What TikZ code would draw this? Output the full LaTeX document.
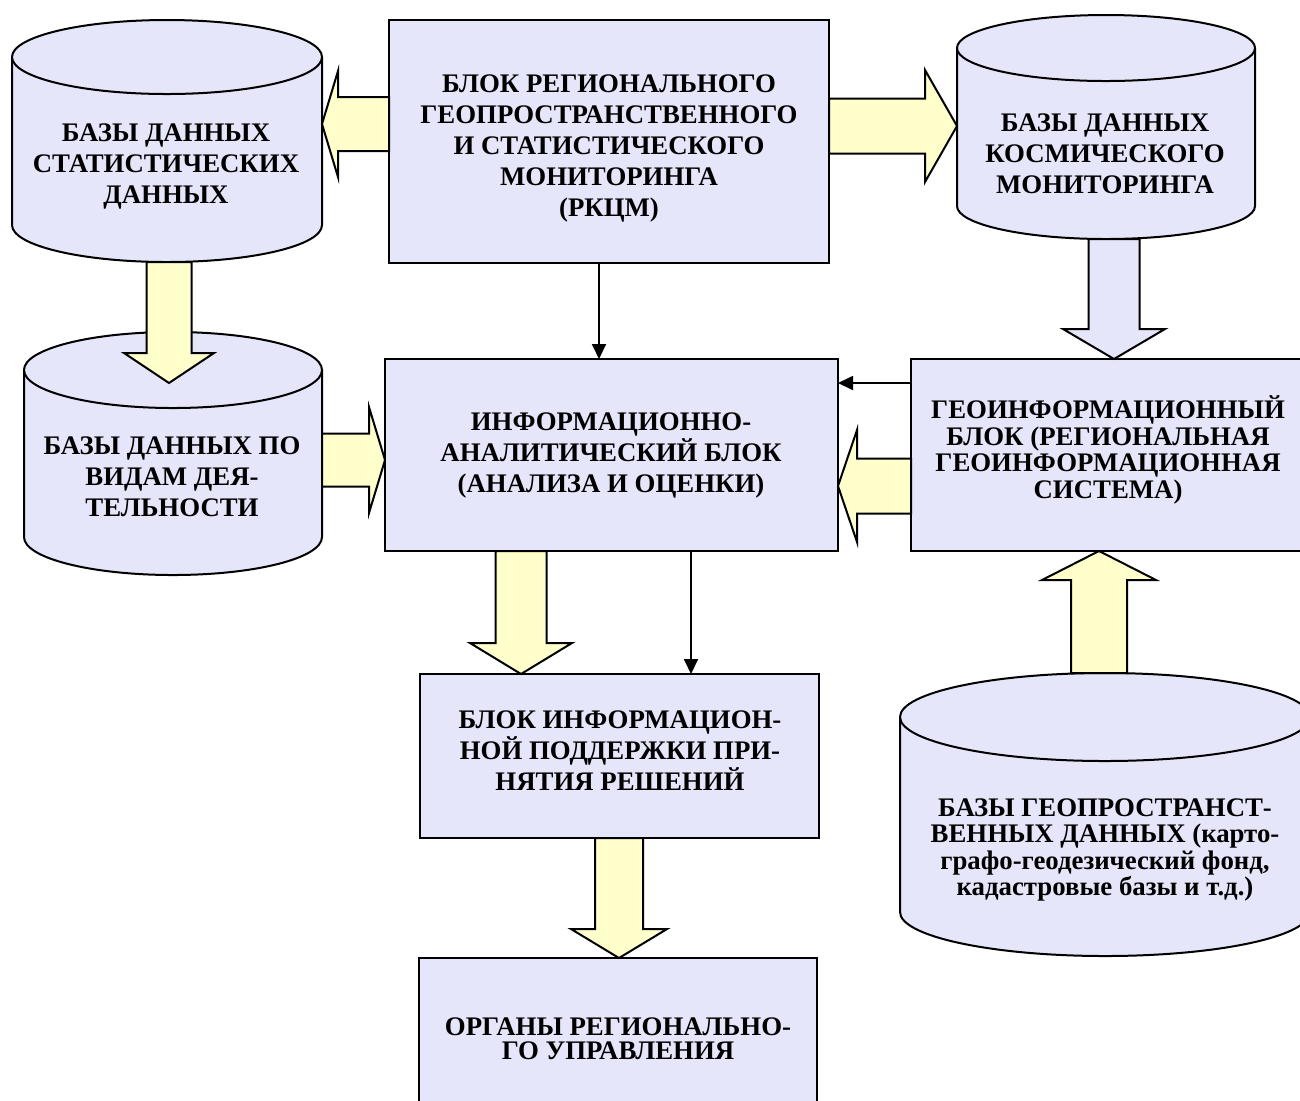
\documentclass[tikz,border=0pt]{standalone}
\usepackage{fontspec}
\setmainfont{Liberation Serif}
\usetikzlibrary{calc,fit,arrows.meta}
\definecolor{lav}{RGB}{230,230,250}
\definecolor{yel}{RGB}{255,255,204}
\tikzset{
 box/.style={draw=black, fill=lav, line width=1pt, inner sep=0pt, outer sep=0pt},
 cylline/.style={draw=black, line width=1pt},
 fatY/.style={draw=black, fill=yel, line width=1pt, line join=miter},
 fatL/.style={draw=black, fill=lav, line width=1pt, line join=miter},
 thinarr/.style={draw=black, line width=0.9pt, -{Triangle[length=7.5pt,width=7pt]}},
 lbl/.style={font=\bfseries\fontsize{13.4}{15.5}\selectfont, align=center, inner sep=0pt},
 lblB/.style={lbl, font=\bfseries\fontsize{13.4}{13.3}\selectfont},
 lblC/.style={lbl, font=\bfseries\fontsize{13.4}{12}\selectfont},
}
% name, x1, x2, y of top ellipse centre, y of bottom ellipse centre, y radius
\newcommand\dbcyl[6]{%
 \node[inner sep=0pt, outer sep=0pt, fit={({#2},{#4-#6}) ({#3},{#5+#6})}] (#1) {};
 \fill[lav] ({#2},{#4}) -- ({#2},{#5}) arc[start angle=180, end angle=0, x radius={(#3-#2)/2}, y radius={#6}]
   -- ({#3},{#4}) arc[start angle=0, end angle=-180, x radius={(#3-#2)/2}, y radius={#6}] -- cycle;
 \draw[cylline] ({#2},{#4}) -- ({#2},{#5}) arc[start angle=180, end angle=0, x radius={(#3-#2)/2}, y radius={#6}] -- ({#3},{#4});
 \draw[cylline, fill=lav] ({(#2+#3)/2},{#4}) ellipse[x radius={(#3-#2)/2}, y radius={#6}];
}
% style, from, to, shaft half width, head half width, head length
\newcommand\fatarrow[6]{%
 \coordinate (fahead) at ($(#3)!#6!(#2)$);
 \filldraw[#1] ($(#2)!#4!90:(#3)$) -- ($(fahead)!#4!90:(#3)$) -- ($(fahead)!#5!90:(#3)$) -- (#3)
   -- ($(fahead)!#5!-90:(#3)$) -- ($(fahead)!#4!-90:(#3)$) -- ($(#2)!#4!-90:(#3)$) -- cycle;
}
\begin{document}
\begin{tikzpicture}[x=0.5pt, y=-0.5pt]
\clip (0,0) rectangle (1300,1100);
\fill[white] (0,0) rectangle (1300,1100);
% boxes
\node[box, fit={(389,20) (829,263)}] (top) {};
\node[box, fit={(385,359) (838,551)}] (info) {};
\node[box, fit={(911,359) (1306,551)}] (geo) {};
\node[box, fit={(420,674) (819,838)}] (dec) {};
\node[box, fit={(419,958) (817,1110)}] (org) {};
% cylinders
\dbcyl{cylA}{12}{322}{57}{225}{37}
\dbcyl{cylB}{957}{1255}{48}{206}{33}
\dbcyl{cylC}{24}{322}{370}{537}{38}
\dbcyl{cylD}{900}{1310}{717}{912}{44}
% arrow end points
\coordinate (a1s) at (top.west |- 0,124);
\coordinate (a1e) at (cylA.east |- 0,124);
\coordinate (a2s) at (top.east |- 0,126);
\coordinate (a2e) at (cylB.west |- 0,126);
\coordinate (a3s) at (cylA.south -| 169,0);
\coordinate (a3e) at (169,383);
\coordinate (a4s) at (cylC.east |- 0,460);
\coordinate (a4e) at (info.west |- 0,460);
\coordinate (a5s) at (cylB.south -| 1114,0);
\coordinate (a5e) at (geo.north -| 1114,0);
\coordinate (a6s) at (geo.west |- 0,486);
\coordinate (a6e) at (info.east |- 0,486);
\coordinate (a7s) at (info.south -| 521,0);
\coordinate (a7e) at (dec.north -| 521,0);
\coordinate (a8s) at (dec.south -| 619,0);
\coordinate (a8e) at (org.north -| 619,0);
\coordinate (a9s) at (cylD.north -| 1099,0);
\coordinate (a9e) at (geo.south -| 1099,0);
% fat arrows
\fatarrow{fatY}{a1s}{a1e}{13.5pt}{26.5pt}{8pt}
\fatarrow{fatY}{a2s}{a2e}{13.75pt}{28pt}{16pt}
\fatarrow{fatY}{a3s}{a3e}{11.25pt}{22.5pt}{15pt}
\fatarrow{fatY}{a4s}{a4e}{13.25pt}{26.5pt}{8pt}
\fatarrow{fatL}{a5s}{a5e}{12.75pt}{25.5pt}{15pt}
\fatarrow{fatY}{a6s}{a6e}{13.75pt}{28pt}{9.5pt}
\fatarrow{fatY}{a7s}{a7e}{12.75pt}{25.5pt}{15.5pt}
\fatarrow{fatY}{a8s}{a8e}{12pt}{24pt}{14.5pt}
\fatarrow{fatY}{a9s}{a9e}{14pt}{28.5pt}{14.5pt}
% thin arrows
\draw[thinarr] (top.south -| 599,0) -- (info.north -| 599,0);
\draw[thinarr] (geo.west |- 0,383) -- (info.east |- 0,383);
\draw[thinarr] (info.south -| 691,0) -- (dec.north -| 691,0);
% texts
\node[lbl] (tTop) at (609,148) {БЛОК РЕГИОНАЛЬНОГО\\ГЕОПРОСТРАНСТВЕННОГО\\И СТАТИСТИЧЕСКОГО\\МОНИТОРИНГА\\(РКЦМ)};
\node[lbl] (tA) at (166,166) {БАЗЫ ДАННЫХ\\СТАТИСТИЧЕСКИХ\\ДАННЫХ};
\node[lbl] (tB) at (1105,154) {БАЗЫ ДАННЫХ\\КОСМИЧЕСКОГО\\МОНИТОРИНГА};
\node[lbl] (tC) at (172,477) {БАЗЫ ДАННЫХ ПО\\ВИДАМ ДЕЯ-\\ТЕЛЬНОСТИ};
\node[lbl] (tInfo) at (611,455) {ИНФОРМАЦИОННО-\\АНАЛИТИЧЕСКИЙ БЛОК\\(АНАЛИЗА И ОЦЕНКИ)};
\node[lblB] (tGeo) at (1108,450) {ГЕОИНФОРМАЦИОННЫЙ\\БЛОК (РЕГИОНАЛЬНАЯ\\ГЕОИНФОРМАЦИОННАЯ\\СИСТЕМА)};
\node[lbl] (tDec) at (620,751) {БЛОК ИНФОРМАЦИОН-\\НОЙ ПОДДЕРЖКИ ПРИ-\\НЯТИЯ РЕШЕНИЙ};
\node[lblC] (tOrg) at (618,1039) {ОРГАНЫ РЕГИОНАЛЬНО-\\ГО УПРАВЛЕНИЯ};
\node[lblB] (tD) at (1105,850) {БАЗЫ ГЕОПРОСТРАНСТ-\\ВЕННЫХ ДАННЫХ (карто-\\графо-геодезический фонд,\\кадастровые базы и т.д.)};
\end{tikzpicture}
\end{document}
